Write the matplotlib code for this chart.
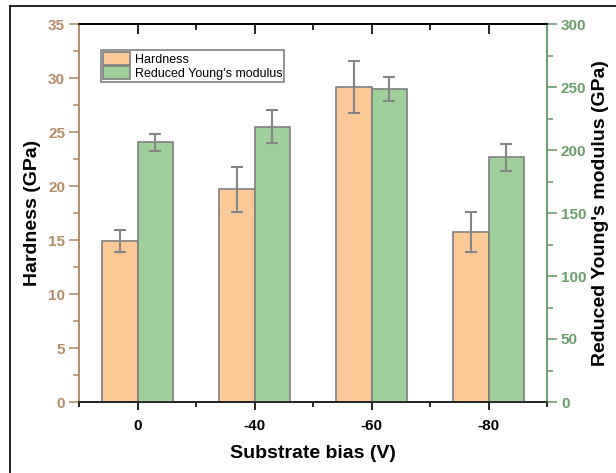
import matplotlib
matplotlib.use("Agg")
import matplotlib.pyplot as plt
from matplotlib.ticker import MultipleLocator, FixedLocator
from matplotlib.lines import Line2D
import numpy as np

plt.rcParams['font.family'] = ['Liberation Sans', 'DejaVu Sans']

categories = ['0', '-40', '-60', '-80']
hardness = [14.9, 19.7, 29.15, 15.7]
hardness_err = [1.05, 2.1, 2.4, 1.85]
modulus = [206.0, 218.5, 248.7, 194.3]
modulus_err = [7.0, 13.2, 9.5, 10.7]

c_orange = '#FDC997'
c_green = '#9ED19A'
c_edge = '#7F7F7F'
c_left = '#B38D68'
c_right = '#6C9E6C'

fig = plt.figure(figsize=(6.16, 4.73), dpi=100)
ax1 = fig.add_axes([79/616, 1-402/473, (547-79)/616, (402-24)/473])
ax2 = ax1.twinx()

x = np.arange(len(categories))
w = 0.3
ax1.bar(x - w/2, hardness, w, color=c_orange, edgecolor=c_edge, linewidth=1.2,
        yerr=hardness_err, error_kw=dict(ecolor='#858585', elinewidth=1.5, capsize=4, capthick=1.5),
        label='Hardness', zorder=2)
ax2.bar(x + w/2, modulus, w, color=c_green, edgecolor=c_edge, linewidth=1.2,
        yerr=modulus_err, error_kw=dict(ecolor='#858585', elinewidth=1.5, capsize=4, capthick=1.5),
        label="Reduced Young's modulus", zorder=2)

ax1.set_xlim(-0.5, 3.5)
ax1.set_ylim(0, 35)
ax2.set_ylim(0, 300)

ax1.set_xticks(x)
ax1.set_xticklabels(categories, fontsize=11, fontweight='bold')
ax1.xaxis.set_minor_locator(FixedLocator([-0.5, 0.5, 1.5, 2.5, 3.5]))
ax1.tick_params(axis='x', which='major', direction='out', length=6, width=1.2, pad=6)
ax1.tick_params(axis='x', which='minor', direction='out', length=3.5, width=1.2)

ax1.yaxis.set_major_locator(MultipleLocator(5))
ax1.yaxis.set_minor_locator(MultipleLocator(2.5))
ax1.tick_params(axis='y', which='major', direction='out', length=7, width=1.2,
                colors=c_left, labelsize=11, pad=3)
ax1.tick_params(axis='y', which='minor', direction='out', length=4, width=1.2, colors=c_left)
for t in ax1.get_yticklabels():
    t.set_fontweight('bold')

ax2.yaxis.set_major_locator(MultipleLocator(50))
ax2.yaxis.set_minor_locator(MultipleLocator(25))
ax2.tick_params(axis='y', which='major', direction='out', length=7, width=1.2,
                colors=c_right, labelsize=11, pad=3)
ax2.tick_params(axis='y', which='minor', direction='out', length=4, width=1.2, colors=c_right)
for t in ax2.get_yticklabels():
    t.set_fontweight('bold')

# top ticks inward
ax1.tick_params(axis='x', which='both', top=False)
sec = ax1.secondary_xaxis('top')
sec.set_xticks(x)
sec.set_xticklabels([])
sec.xaxis.set_minor_locator(FixedLocator([0.5, 1.5, 2.5]))
sec.tick_params(axis='x', which='major', direction='in', length=7, width=1.2)
sec.tick_params(axis='x', which='minor', direction='in', length=4, width=1.2)
sec.spines['top'].set_linewidth(1.2)

for a in (ax1, ax2):
    a.spines['left'].set_color(c_left)
    a.spines['right'].set_color(c_right)
    a.spines['top'].set_color('black')
    a.spines['bottom'].set_color('#222222')
    for s in a.spines.values():
        s.set_linewidth(1.2)

ax1.set_xlabel('Substrate bias (V)', fontsize=14, fontweight='bold', labelpad=9)
ax1.set_ylabel('Hardness (GPa)', fontsize=14, fontweight='bold', labelpad=5)
ax2.set_ylabel("Reduced Young's modulus (GPa)", fontsize=14, fontweight='bold', labelpad=4)

h1, l1 = ax1.get_legend_handles_labels()
h2, l2 = ax2.get_legend_handles_labels()
leg = ax2.legend(h1 + h2, l1 + l2, loc='upper left', bbox_to_anchor=(0.047, 0.931),
                 borderaxespad=0, fontsize=9, frameon=True, fancybox=False,
                 edgecolor='#808080', framealpha=1, handlelength=2.2, handleheight=1.2,
                 labelspacing=0.05, borderpad=0.15, handletextpad=0.35)
leg.get_frame().set_linewidth(1.2)

# outer figure border (left and top visible)
fig.add_artist(Line2D([10/616, 10/616], [0, 1-6/473], color='black', lw=1.2, transform=fig.transFigure))
fig.add_artist(Line2D([10/616, 1], [1-6/473, 1-6/473], color='black', lw=1.2, transform=fig.transFigure))

fig.savefig('out.png', dpi=100)
